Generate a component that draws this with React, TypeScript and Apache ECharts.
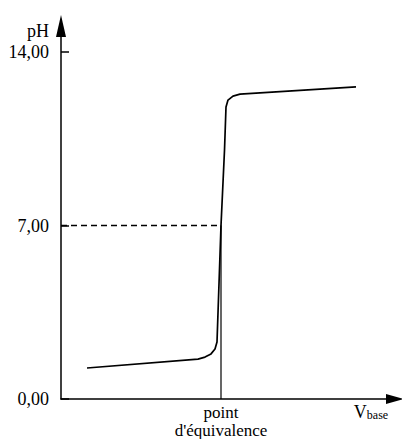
import React, { useEffect, useRef } from "react";
import * as echarts from "echarts";

// Titration curve (V in arbitrary units, pH)
const curveV = [2.6, 13.7, 14.4, 15.0, 15.4, 15.6, 16.0, 16.35, 16.5, 16.7, 17.2, 17.9, 29.5];
const curvePH = [1.25, 1.61, 1.69, 1.82, 2.02, 2.3, 7.0, 10.04, 11.78, 12.06, 12.22, 12.3, 12.59];
const yTickValues = [0, 7, 14];
const equivalenceV = 16;
const equivalencePH = 7;
const vbaseLabelAt = 31;
const xLabelValues = [equivalenceV, vbaseLabelAt];
const yAxisTitle = "pH";

const FONT = "'Liberation Serif', 'Times New Roman', serif";

export default function App() {
  const ref = useRef<HTMLDivElement>(null);
  useEffect(() => {
    if (!ref.current) return;
    const chart = echarts.init(ref.current, null, { renderer: "svg" });
    const fmtY = (v: number) => v.toFixed(2).replace(".", ",");
    chart.setOption({
      animation: false,
      backgroundColor: "#ffffff",
      textStyle: { fontFamily: FONT, color: "#000" },
      grid: { left: 61, right: 7, top: 26, bottom: 40, containLabel: false, outerBoundsMode: "none" },
      graphic: [
        {
          type: "text",
          x: 49,
          y: 31,
          style: {
            text: yAxisTitle,
            fontFamily: FONT,
            fontSize: 18,
            fill: "#000",
            align: "right",
            verticalAlign: "middle",
          },
        },
      ],
      xAxis: {
        type: "value",
        min: 0,
        max: 33.4,
        splitLine: { show: false },
        axisTick: { show: false },
        axisLine: {
          show: true,
          lineStyle: { color: "#000", width: 1.5 },
          symbol: ["none", "triangle"],
          symbolSize: [10, 18],
        },
        axisLabel: {
          customValues: xLabelValues,
          margin: 4,
          fontFamily: FONT,
          color: "#000",
          fontSize: 17,
          lineHeight: 18,
          formatter: (v: number) =>
            v === equivalenceV ? "point\nd'équivalence" : "{v|V}{b|base}",
          rich: {
            v: { fontSize: 18, fontFamily: FONT, color: "#000", verticalAlign: "bottom", lineHeight: 18 },
            b: { fontSize: 12, fontFamily: FONT, color: "#000", verticalAlign: "bottom", lineHeight: 15 },
          },
        },
      },
      yAxis: {
        type: "value",
        min: 0,
        max: 15.05,
        splitLine: { show: false },
        axisLine: {
          show: true,
          lineStyle: { color: "#000", width: 1.5 },
          symbol: ["none", "triangle"],
          symbolSize: [10, 22],
        },
        axisTick: {
          show: true,
          customValues: yTickValues,
          inside: true,
          length: 8,
          lineStyle: { color: "#000", width: 1.5 },
        },
        axisLabel: {
          customValues: yTickValues,
          margin: 12,
          fontFamily: FONT,
          fontSize: 18,
          lineHeight: 14,
          color: "#000",
          formatter: fmtY,
        },
      },
      series: [
        {
          type: "line",
          data: curveV.map((v, i) => [v, curvePH[i]]),
          showSymbol: false,
          smooth: false,
          lineStyle: { color: "#000", width: 1.7 },
          z: 3,
        },
        {
          type: "line",
          data: [
            [0, equivalencePH],
            [equivalenceV, equivalencePH],
          ],
          showSymbol: false,
          lineStyle: { color: "#000", width: 1.4, type: [6, 4] },
        },
        {
          type: "line",
          data: [
            [equivalenceV, 0],
            [equivalenceV, equivalencePH],
          ],
          showSymbol: false,
          lineStyle: { color: "#000", width: 1.2 },
        },
      ],
    });
    return () => chart.dispose();
  }, []);
  return (
    <div
      ref={ref}
      style={{ position: "fixed", left: 0, top: 0, width: 402, height: 439, background: "#fff" }}
    />
  );
}
